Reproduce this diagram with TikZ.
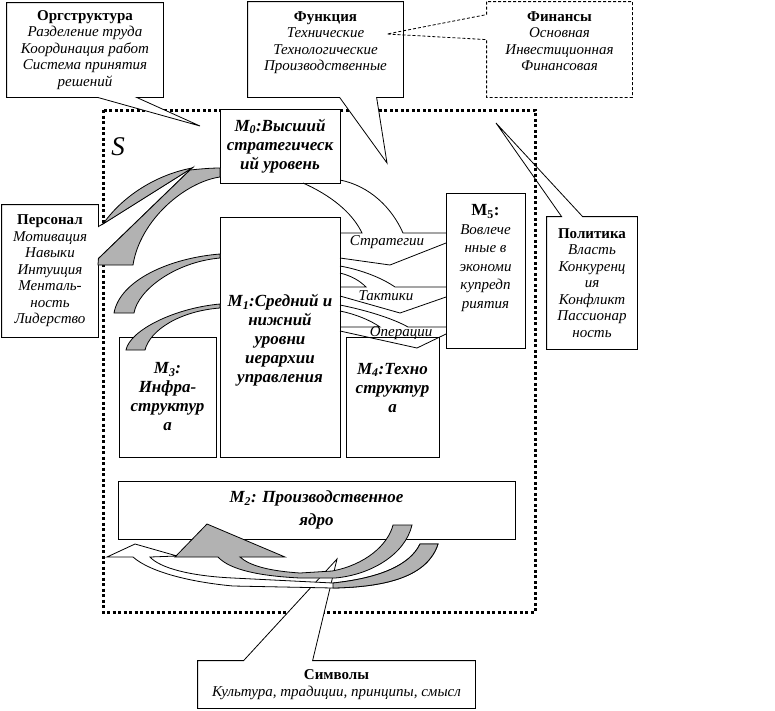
\documentclass[tikz,border=0pt]{standalone}
\usepackage{fontspec}
\setmainfont{Liberation Serif}
\usetikzlibrary{calc}

\begin{document}
\begin{tikzpicture}[x=1pt, y=-1pt, line width=0.8pt]
\tikzset{note/.style={fill=white, align=center, inner sep=0pt, font=\fontsize{15}{16.5}\selectfont\itshape}}
\tikzset{level/.style={draw, fill=white, align=center, inner sep=0pt, font=\fontsize{17}{19}\selectfont\bfseries\itshape}}
\tikzset{band/.style={draw, fill=black!30}}
\tikzset{hollow/.style={draw, fill=white}}
\tikzset{frame/.style={line width=3pt, dash pattern=on 3pt off 2.5pt}}
\tikzset{flow/.style={font=\fontsize{15}{16}\selectfont\itshape}}
\useasboundingbox (0,0) rectangle (775,710);

\draw[frame] (103,110) rectangle (535,612);
\node[font=\fontsize{27}{27}\selectfont\itshape] (s) at (118,147) {S};

\node[note, minimum width=156, minimum height=94] (org) at (85,50) {\textbf{\upshape Оргструктура}\\Разделение труда\\Координация работ\\Система принятия\\решений};
\node[note, minimum width=155, minimum height=95] (func) at (325.5,49.5) {\textbf{\upshape Функция}\\Технические\\Технологические\\Производственные\\\mbox{}};
\node[note, minimum width=145, minimum height=95] (fin) at (559.5,49.5) {\textbf{\upshape Финансы}\\Основная\\Инвестиционная\\Финансовая\\\mbox{}};
\node[note, minimum width=96, minimum height=132] (pers) at (50,271) {\textbf{\upshape Персонал}\\Мотивация\\Навыки\\Интуиция\\Менталь-\\ность\\Лидерство};
\node[note, minimum width=90, minimum height=132] (pol) at (592,283) {\textbf{\upshape Политика}\\Власть\\Конкуренц\\ия\\Конфликт\\Пассионар\\ность};
\node[note, minimum width=277, minimum height=47] (sym) at (336.5,684.5) {\textbf{\upshape Символы}\\Культура, традиции, принципы, смысл};

\coordinate (orgtip) at (200,126);
\coordinate (functip) at (387,163);
\coordinate (fintip) at (387,34);
\coordinate (perstip) at (192,168);
\coordinate (poltip) at (496,123);
\coordinate (symtip) at (337,559);

\fill[white] ($(org.south west)+(91,0)$) -- (orgtip) -- ($(org.south west)+(130,0)$) -- cycle;
\draw (org.north west) -- (org.south west) -- ($(org.south west)+(91,0)$) -- (orgtip) -- ($(org.south west)+(130,0)$) -- (org.south east) -- (org.north east) -- cycle;
\fill[white] ($(func.south west)+(92,0)$) -- (functip) -- ($(func.south west)+(129,0)$) -- cycle;
\draw (func.north west) -- (func.south west) -- ($(func.south west)+(92,0)$) -- (functip) -- ($(func.south west)+(129,0)$) -- (func.south east) -- (func.north east) -- cycle;
\draw[dash pattern=on 3pt off 2pt] (fin.north west) -- ($(fin.north west)+(0,13)$) -- (fintip) -- ($(fin.north west)+(0,38)$) -- (fin.south west) -- (fin.south east) -- (fin.north east) -- cycle;
\fill[white] ($(pers.north east)+(0,22)$) -- (perstip) -- ($(pers.north east)+(0,54)$) -- cycle;
\draw (pers.north east) -- (pers.north west) -- (pers.south west) -- (pers.south east) -- ($(pers.north east)+(0,54)$) -- (perstip) -- ($(pers.north east)+(0,22)$) -- cycle;
\draw (pol.north west) -- ($(pol.north west)+(15,0)$) -- (poltip) -- ($(pol.north west)+(36,0)$) -- (pol.north east) -- (pol.south east) -- (pol.south west) -- cycle;
\fill[white] ($(sym.north west)+(46,0)$) -- (symtip) -- ($(sym.north west)+(115,0)$) -- cycle;
\draw (sym.north west) -- (sym.south west) -- (sym.south east) -- (sym.north east) -- ($(sym.north west)+(115,0)$) -- (symtip) -- ($(sym.north west)+(46,0)$) -- cycle;

\node[level, minimum width=120, minimum height=74] (m0) at (280,146) {M\textsubscript{0}:Высший\\стратегическ\\ий уровень};
\node[level, minimum width=120, minimum height=240] (m1) at (280,337) {\mbox{}\\M\textsubscript{1}:Средний и\\нижний\\уровни\\иерархии\\управления};
\node[level, minimum width=97, minimum height=120] (m3) at (167.5,397) {M\textsubscript{3}:\\Инфра-\\структур\\а};
\node[level, minimum width=93, minimum height=120] (m4) at (392.5,397) {M\textsubscript{4}:Техно\\структур\\а\\\mbox{}};
\node[level, minimum width=397, minimum height=58, font=\fontsize{17}{23}\selectfont\bfseries\itshape] (m2) at (316.5,510) {M\textsubscript{2}: Производственное\\ядро};
\node[level, minimum width=79, minimum height=155, font=\fontsize{15}{18.5}\selectfont\itshape] (m5) at (485.5,270.5) {\textbf{\upshape\fontsize{17}{19}\selectfont M\textsubscript{5}:}\\Вовлече\\нные в\\экономи\\купредп\\риятия\\[10pt]\mbox{}};

\filldraw[band] (103,224) .. controls (125,193) and (160,174) .. (perstip) -- cycle;
\filldraw[band] ($(pers.north east)+(0,54)$) -- (190,170) .. controls (200,169) and (210,168) .. (220,168) -- (220,177) .. controls (185,182) and (140,220) .. (133,265) -- (98,265) -- cycle;
\filldraw[band] (220,254) .. controls (170,258) and (120,280) .. (114,313) -- (134,313) .. controls (138,290) and (175,262) .. (220,258) -- cycle;
\filldraw[band] (220,304) .. controls (175,308) and (130,330) .. (126,350) -- (145,350) .. controls (150,330) and (180,311) .. (220,308) -- cycle;

\filldraw[hollow] (107,557) -- (135,544) -- (177,556) -- (150,557) .. controls (160,568) and (190,576) .. (233,578) -- (333,583) .. controls (380,578) and (410,565) .. (420,544) -- (438,544) .. controls (428,575) and (390,587) .. (333,588) -- (233,586) .. controls (190,582) and (150,572) .. (133,557) -- cycle;
\filldraw[band] (333,583) .. controls (380,578) and (410,565) .. (420,544) -- (438,544) .. controls (428,575) and (390,587) .. (333,588) -- cycle;
\filldraw[band] (175,557) -- (207,524) -- (285,557) -- (240,557) .. controls (250,566) and (270,571) .. (300,573) -- (332,571) .. controls (365,565) and (388,545) .. (393,525) -- (412,525) .. controls (405,555) and (370,575) .. (335,578) -- (300,578) .. controls (260,576) and (230,570) .. (218,557) -- cycle;

\draw (303,183) .. controls (330,195) and (352,212) .. (362,233) -- (340,233);
\draw (340,180) .. controls (370,186) and (392,208) .. (403,233) -- (446,233);
\draw (340,258) -- (390,265) -- (446,243);
\draw (340,266) .. controls (362,270) and (382,278) .. (395,287) -- (446,287);
\draw (340,273) .. controls (352,276) and (360,281) .. (366,287) -- (340,287);
\draw (340,296) -- (400,313) -- (446,297);
\draw (340,305) .. controls (365,310) and (392,318) .. (408,327) -- (446,327);
\draw (340,311) .. controls (355,314) and (370,320) .. (380,327) -- (340,327);
\draw (340,331) -- (417,348) -- (446,334);
\node[flow] (strat) at (387,242) {Стратегии};
\node[flow] (tact) at (386,296) {Тактики};
\node[flow] (oper) at (401,333) {Операции};
\end{tikzpicture}
\end{document}
